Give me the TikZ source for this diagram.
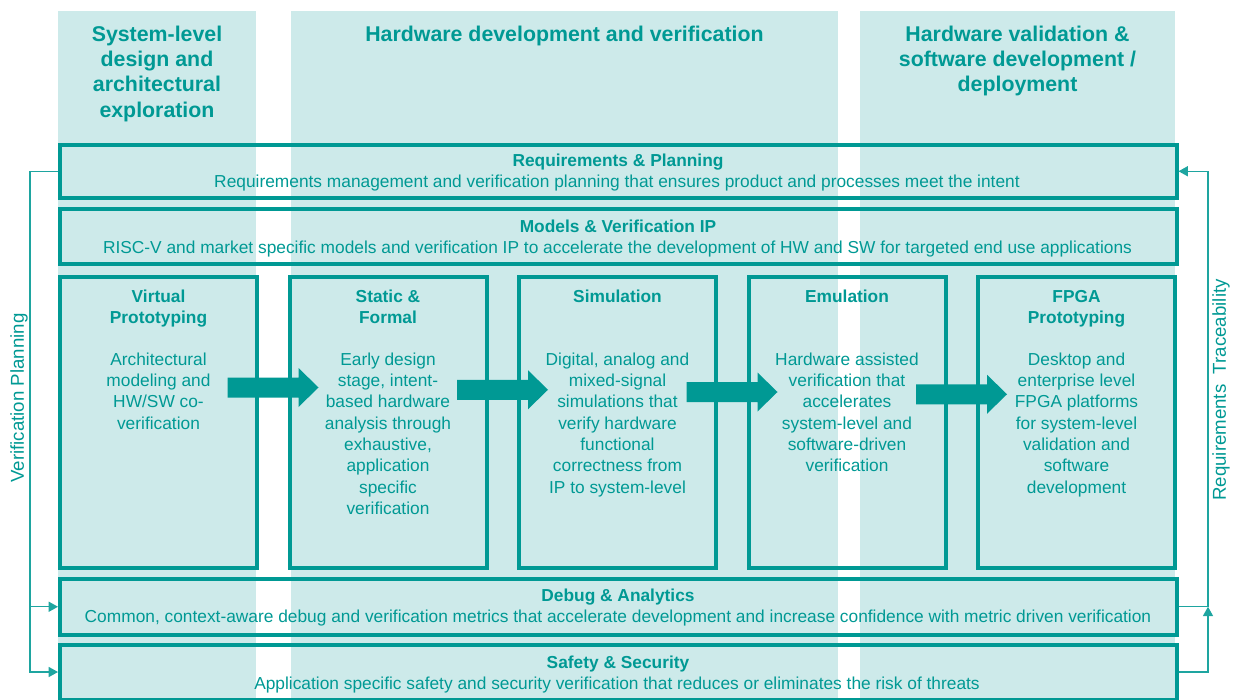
\documentclass[tikz,border=0pt]{standalone}
\usepackage{fontspec}
\setmainfont{Liberation Sans}
\usetikzlibrary{arrows.meta}
\definecolor{tealc}{RGB}{0,153,148}
\definecolor{lightc}{RGB}{205,234,234}
\definecolor{linec}{RGB}{30,165,160}
\newcommand\blockarr[2]{\fill[blockarrow] ({#1},{#2-10}) -- ({#1+71},{#2-10}) -- ({#1+71},{#2-19.5}) -- ({#1+91},{#2}) -- ({#1+71},{#2+19.5}) -- ({#1+71},{#2+10}) -- ({#1},{#2+10}) -- cycle;}
\begin{document}
\begin{tikzpicture}[x=0.75pt,y=-0.75pt,
  colbg/.style={fill=lightc,draw=none},
  hdr/.style={font=\bfseries\fontsize{16}{19}\selectfont,text=tealc,align=center,anchor=north,inner sep=0pt},
  frame/.style={draw=tealc,line width=3pt,inner sep=0pt},
  hbox/.style={frame,minimum width=837.375pt},
  vbox/.style={frame,minimum width=147.75pt,minimum height=218.25pt},
  ttl/.style={font=\bfseries\fontsize{13}{16}\selectfont,text=tealc,anchor=base,inner sep=0pt},
  txt/.style={font=\fontsize{13}{16}\selectfont,text=tealc,anchor=base,inner sep=0pt},
  btitle/.style={font=\bfseries\fontsize{13}{16}\selectfont,text=tealc,align=center,anchor=north,inner sep=0pt},
  bbody/.style={font=\fontsize{13}{16}\selectfont,text=tealc,align=center,anchor=north,inner sep=0pt},
  conn/.style={draw=linec,line width=1.1pt},
  tip/.style={-{Triangle[length=7pt,width=7.5pt]}},
  side/.style={font=\fontsize{14}{17}\selectfont,text=tealc,rotate=90,inner sep=0pt},
  blockarrow/.style={fill=tealc,draw=none}
]
\useasboundingbox (0,0) rectangle (1237,699);
% column backgrounds
\fill[colbg] (58,11) rectangle (256,700);
\fill[colbg] (291,11) rectangle (838,700);
\fill[colbg] (860,11) rectangle (1175,700);
% headers
\node[hdr] (h1) at (157,23.3) {\strut System-level\\design and\\architectural\\exploration};
\node[hdr] (h2) at (564.5,23.3) {\strut Hardware development and verification};
\node[hdr] (h3) at (1017.5,23.3) {\strut Hardware validation \&\\software development /\\deployment};
% horizontal boxes
\node[hbox,minimum height=40.125pt] (req) at (618.25,171.25) {};
\node[hbox,minimum height=41.25pt] (mod) at (618.25,236.5) {};
\node[hbox,minimum height=41.625pt] (dbg) at (618.25,606.75) {};
\node[hbox,minimum height=41.25pt] (saf) at (618.25,672) {};
\node[ttl] (reqt) at (618,166.5) {Requirements \& Planning};
\node[txt] (reqb) at (617,187.5) {Requirements management and verification planning that ensures product and processes meet the intent};
\node[ttl] (modt) at (618,232.5) {Models \& Verification IP};
\node[txt] (modb) at (617.5,253.5) {RISC-V and market specific models and verification IP to accelerate the development of HW and SW for targeted end use applications};
\node[ttl] (dbgt) at (618,601.5) {Debug \& Analytics};
\node[txt] (dbgb) at (618,622.5) {Common, context-aware debug and verification metrics that accelerate development and increase confidence with metric driven verification};
\node[ttl] (saft) at (618,668.5) {Safety \& Security};
\node[txt] (safb) at (617,689.5) {Application specific safety and security verification that reduces or eliminates the risk of threats};
% vertical boxes
\node[vbox] (vp) at (158.5,422.5) {};
\node[vbox] (sf) at (388,422.5) {};
\node[vbox] (sim) at (617.5,422.5) {};
\node[vbox] (emu) at (847,422.5) {};
\node[vbox] (fpga) at (1076.5,422.5) {};
\node[btitle] (vpt) at (158.5,287) {\strut Virtual\\Prototyping};
\node[bbody] (vpb) at (158.5,350) {\strut Architectural\\modeling and\\HW/SW co-\\verification};
\node[btitle] (sft) at (388,287) {\strut Static \&\\Formal};
\node[bbody] (sfb) at (388,350) {\strut Early design\\stage, intent-\\based hardware\\analysis through\\exhaustive,\\application\\specific\\verification};
\node[btitle] (simt) at (617.5,287) {\strut Simulation};
\node[bbody] (simb) at (617.5,350) {\strut Digital, analog and\\mixed-signal\\simulations that\\verify hardware\\functional\\correctness from\\IP to system-level};
\node[btitle] (emut) at (847,287) {\strut Emulation};
\node[bbody] (emub) at (847,350) {\strut Hardware assisted\\verification that\\accelerates\\system-level and\\software-driven\\verification};
\node[btitle] (fpgat) at (1076.5,287) {\strut FPGA\\Prototyping};
\node[bbody] (fpgab) at (1076.5,350) {\strut Desktop and\\enterprise level\\FPGA platforms\\for system-level\\validation and\\software\\development};
% block arrows
\blockarr{227.5}{387.5}
\blockarr{457}{389.75}
\blockarr{686.5}{392}
\blockarr{916}{394.25}
% side connectors
\coordinate (vx) at (30,0);
\coordinate (rx) at (1208,0);
\draw[conn,tip] (req.west) -| (vx |- dbg.west) -- (dbg.west);
\draw[conn,tip] (vx |- dbg.west) |- (saf.west);
\draw[conn,tip] (dbg.east) -| (rx |- req.east) -- (req.east);
\draw[conn,tip] (saf.east) -| (rx |- dbg.east);
\node[side] (vpl) at (19,398) {Verification Planning};
\node[side] (rtl) at (1221,390) {Requirements\hspace{4pt} Traceability};
\end{tikzpicture}
\end{document}
